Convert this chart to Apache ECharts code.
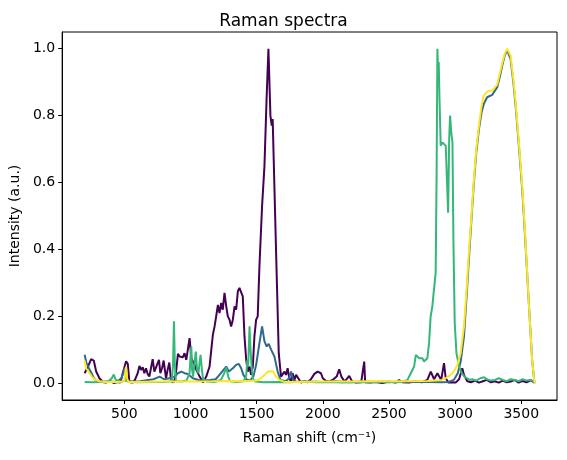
<!DOCTYPE html>
<html>
<head>
<meta charset="utf-8">
<script src="https://cdn.jsdelivr.net/npm/echarts@6/dist/echarts.min.js"></script>
<style>
  html, body {margin: 0; padding: 0; background: #fff;}
  #chart {width: 567px; height: 460px;}
</style>
</head>
<body>
<div id="chart"></div>
<script>
const xTicks = [500, 1000, 1500, 2000, 2500, 3000, 3500]
const yTicks = [0, 0.2, 0.4, 0.6, 0.8, 1.0]

// spectrum 1 (purple)
const shift1 = [200, 225, 249, 269, 287, 312, 337, 360, 390, 420, 450, 470, 488, 513, 526, 538, 563, 580, 601, 614,
  626, 639, 651, 664, 676, 689, 701, 714, 727, 740, 752, 762, 772, 785, 797, 815, 827, 840, 850, 860,
  877, 890, 905, 918, 930, 943, 955, 968, 980, 993, 1006, 1018, 1031, 1044, 1069, 1094, 1119, 1144, 1157, 1169,
  1182, 1194, 1207, 1219, 1232, 1244, 1257, 1270, 1282, 1295, 1307, 1320, 1333, 1345, 1358, 1370, 1383, 1395, 1408, 1421,
  1433, 1446, 1458, 1471, 1483, 1496, 1508, 1521, 1541, 1559, 1575, 1589, 1604, 1614, 1621, 1634, 1647, 1667, 1684, 1697,
  1710, 1722, 1734, 1747, 1760, 1772, 1785, 1798, 1810, 1823, 1835, 1860, 1885, 1910, 1936, 1961, 1986, 2000, 2020, 2050,
  2080, 2105, 2124, 2140, 2165, 2200, 2220, 2250, 2290, 2305, 2313, 2320, 2360, 2400, 2450, 2500, 2550, 2577, 2600, 2650,
  2700, 2750, 2790, 2816, 2841, 2866, 2878, 2895, 2916, 2929, 2950, 2979, 3004, 3030, 3054, 3067, 3092, 3120, 3150, 3180,
  3210, 3240, 3270, 3300, 3330, 3360, 3390, 3420, 3450, 3480, 3510, 3540, 3570, 3600]
const int1 = [0.03, 0.05, 0.072, 0.068, 0.035, 0.015, 0.004, 0.002, 0.006, 0.001, 0.004, 0.002, 0.03, 0.066, 0.058, 0.004, 0.002, 0.01, 0.03, 0.052,
  0.04, 0.048, 0.03, 0.045, 0.028, 0.02, 0.045, 0.072, 0.035, 0.04, 0.06, 0.07, 0.03, 0.045, 0.068, 0.015, 0.04, 0.062, 0.02, 0.003,
  0.006, 0.03, 0.088, 0.08, 0.085, 0.078, 0.09, 0.07, 0.075, 0.135, 0.075, 0.07, 0.055, 0.04, 0.02, 0.002, 0.02, 0.05, 0.1, 0.145,
  0.17, 0.2, 0.234, 0.21, 0.24, 0.22, 0.27, 0.23, 0.2, 0.19, 0.17, 0.19, 0.23, 0.22, 0.275, 0.285, 0.29, 0.26, 0.14, 0.07,
  0.035, 0.05, 0.025, 0.05, 0.14, 0.19, 0.2, 0.35, 0.53, 0.65, 0.85, 1.0, 0.8, 0.77, 0.79, 0.79, 0.39, 0.09, 0.02, 0.015,
  0.035, 0.025, 0.045, 0.015, 0.005, 0.03, 0.01, 0.025, 0.03, 0.01, 0.002, 0.006, 0.003, 0.012, 0.028, 0.035, 0.03, 0.015, 0.008, 0.005,
  0.012, 0.02, 0.042, 0.02, 0.005, 0.022, 0.006, 0.002, 0.003, 0.004, 0.065, 0.003, 0.002, 0.004, 0.001, 0.005, 0.002, 0.01, 0.003, 0.002,
  0.005, 0.003, 0.01, 0.035, 0.012, 0.03, 0.025, 0.01, 0.06, 0.015, 0.002, 0.003, 0.002, 0.012, 0.045, 0.025, 0.006, 0.003, 0.008, 0.002,
  0.006, 0.01, 0.003, 0.006, 0.002, 0.008, 0.003, 0.005, 0.01, 0.002, 0.007, 0.003, 0.009, 0.002]

// spectrum 2 (blue)
const shift2 = [200, 214, 232, 252, 270, 290, 320, 380, 440, 478, 503, 516, 560, 620, 680, 720, 767, 800, 840, 880,
  905, 931, 955, 980, 1018, 1060, 1094, 1150, 1190, 1219, 1245, 1270, 1290, 1320, 1345, 1365, 1383, 1400, 1421, 1450,
  1475, 1496, 1521, 1541, 1559, 1576, 1591, 1610, 1634, 1659, 1680, 1720, 1745, 1760, 1775, 1800, 1900, 2000, 2100, 2200,
  2300, 2400, 2500, 2600, 2700, 2800, 2900, 2950, 2990, 3020, 3042, 3067, 3085, 3104, 3125, 3142, 3160, 3180, 3200, 3217,
  3242, 3280, 3318, 3340, 3356, 3375, 3393, 3407, 3419, 3440, 3457, 3480, 3507, 3530, 3557, 3582, 3600]
const int2 = [0.085, 0.06, 0.045, 0.03, 0.015, 0.007, 0.004, 0.005, 0.004, 0.015, 0.045, 0.01, 0.005, 0.006, 0.01, 0.012, 0.02, 0.012, 0.015, 0.02,
  0.03, 0.035, 0.03, 0.028, 0.015, 0.01, 0.008, 0.01, 0.012, 0.025, 0.038, 0.05, 0.035, 0.045, 0.055, 0.058, 0.045, 0.025, 0.012, 0.008,
  0.02, 0.055, 0.12, 0.17, 0.125, 0.11, 0.118, 0.1, 0.08, 0.035, 0.01, 0.006, 0.015, 0.035, 0.01, 0.004, 0.005, 0.004, 0.006, 0.003,
  0.005, 0.004, 0.003, 0.005, 0.004, 0.004, 0.003, 0.004, 0.01, 0.03, 0.065, 0.14, 0.25, 0.37, 0.5, 0.6, 0.69, 0.76, 0.81, 0.835,
  0.855, 0.862, 0.885, 0.92, 0.95, 0.98, 0.995, 0.99, 0.97, 0.9, 0.83, 0.72, 0.58, 0.43, 0.24, 0.07, 0.0]

// spectrum 3 (green)
const shift3 = [200, 260, 320, 380, 405, 420, 435, 470, 510, 530, 600, 700, 800, 860, 868, 875, 882, 890, 930, 970,
  993, 1000, 1006, 1012, 1020, 1030, 1040, 1050, 1060, 1068, 1076, 1084, 1094, 1120, 1180, 1230, 1255, 1270, 1285, 1300,
  1350, 1400, 1420, 1430, 1436, 1446, 1454, 1460, 1470, 1490, 1550, 1650, 1750, 1850, 1950, 2050, 2150, 2250, 2350, 2450,
  2550, 2600, 2640, 2665, 2690, 2703, 2715, 2728, 2740, 2753, 2765, 2778, 2790, 2803, 2815, 2828, 2835, 2845, 2853, 2860,
  2866, 2872, 2876, 2882, 2891, 2904, 2916, 2929, 2941, 2947, 2955, 2962, 2967, 2972, 2980, 2987, 2997, 3010, 3030, 3050,
  3070, 3090, 3110, 3130, 3160, 3190, 3220, 3240, 3270, 3300, 3330, 3360, 3390, 3420, 3450, 3480, 3510, 3540, 3570, 3600]
const int3 = [0.004, 0.003, 0.004, 0.006, 0.015, 0.026, 0.01, 0.004, 0.008, 0.005, 0.003, 0.004, 0.004, 0.006, 0.06, 0.185, 0.05, 0.006, 0.005, 0.008,
  0.03, 0.08, 0.11, 0.04, 0.02, 0.06, 0.095, 0.04, 0.03, 0.06, 0.085, 0.05, 0.015, 0.005, 0.004, 0.01, 0.03, 0.048, 0.02, 0.006,
  0.004, 0.006, 0.02, 0.07, 0.05, 0.17, 0.1, 0.06, 0.015, 0.005, 0.003, 0.004, 0.003, 0.005, 0.003, 0.004, 0.002, 0.004, 0.003, 0.005,
  0.003, 0.004, 0.01, 0.03, 0.05, 0.085, 0.09, 0.075, 0.08, 0.075, 0.065, 0.06, 0.075, 0.12, 0.2, 0.23, 0.26, 0.26, 0.33, 0.62,
  1.0, 0.93, 0.96, 0.85, 0.71, 0.72, 0.715, 0.71, 0.705, 0.51, 0.73, 0.8, 0.77, 0.745, 0.72, 0.43, 0.18, 0.09, 0.05, 0.03,
  0.02, 0.015, 0.01, 0.012, 0.008, 0.015, 0.018, 0.012, 0.008, 0.01, 0.015, 0.01, 0.006, 0.012, 0.01, 0.006, 0.012, 0.008, 0.01, 0.005]

// spectrum 4 (yellow)
const shift4 = [200, 211, 237, 255, 274, 312, 360, 450, 500, 506, 513, 520, 530, 600, 800, 1000, 1200, 1300, 1400, 1500,
  1521, 1540, 1559, 1580, 1596, 1609, 1625, 1647, 1672, 1710, 1800, 2000, 2200, 2400, 2600, 2800, 2900, 2929, 2955, 2979,
  3000, 3017, 3042, 3067, 3085, 3104, 3125, 3142, 3160, 3180, 3200, 3217, 3242, 3280, 3318, 3340, 3356, 3375, 3393, 3407,
  3419, 3440, 3457, 3480, 3507, 3530, 3557, 3582, 3600]
const int4 = [0.068, 0.045, 0.03, 0.02, 0.012, 0.006, 0.004, 0.004, 0.006, 0.03, 0.05, 0.015, 0.004, 0.004, 0.005, 0.005, 0.006, 0.007, 0.006, 0.008,
  0.012, 0.018, 0.025, 0.033, 0.036, 0.04, 0.035, 0.02, 0.01, 0.004, 0.004, 0.005, 0.005, 0.006, 0.006, 0.007, 0.01, 0.015, 0.022, 0.03,
  0.042, 0.055, 0.09, 0.17, 0.27, 0.39, 0.51, 0.61, 0.7, 0.77, 0.83, 0.86, 0.872, 0.875, 0.893, 0.93, 0.957, 0.985, 1.0, 0.995,
  0.98, 0.91, 0.84, 0.73, 0.59, 0.44, 0.24, 0.07, 0.0]

const spectra = [[shift1, int1], [shift2, int2], [shift3, int3], [shift4, int4]]
const palette = ['#440154', '#31688e', '#35b779', '#fde725']

const font = 'DejaVu Sans'
const pairs = function (xs, ys) {
  return xs.map((x, i) => [x, ys[i]])
}

let option = {
  animation: false,
  backgroundColor: '#fff',
  title: {
    text: 'Raman spectra',
    left: 'center',
    top: 8,
    textStyle: {fontFamily: font, fontSize: 17, fontWeight: 'normal', color: '#000'}
  },
  grid: {left: 62, right: 10, top: 32, bottom: 60, show: true, borderColor: '#000', borderWidth: 1},
  xAxis: {
    type: 'value',
    min: 30,
    max: 3770,
    name: 'Raman shift (cm⁻¹)',
    nameLocation: 'middle',
    nameGap: 31,
    nameTextStyle: {fontFamily: font, fontSize: 14, color: '#000'},
    axisLine: {show: true, onZero: false, lineStyle: {color: '#000', width: 1}},
    axisTick: {show: true, length: 4, customValues: xTicks, lineStyle: {color: '#000'}},
    axisLabel: {customValues: xTicks, margin: 7, fontFamily: font, fontSize: 14, color: '#000',
      formatter: v => String(v)},
    splitLine: {show: false}
  },
  yAxis: {
    type: 'value',
    min: -0.05,
    max: 1.05,
    name: 'Intensity (a.u.)',
    nameLocation: 'middle',
    nameGap: 38,
    nameTextStyle: {fontFamily: font, fontSize: 14, color: '#000'},
    axisLine: {show: true, onZero: false, lineStyle: {color: '#000', width: 1}},
    axisTick: {show: true, length: 4, customValues: yTicks, lineStyle: {color: '#000'}},
    axisLabel: {customValues: yTicks, margin: 7, fontFamily: font, fontSize: 14, color: '#000',
      formatter: v => v.toFixed(1)},
    splitLine: {show: false}
  },
  series: spectra.map((s, i) => ({
    type: 'line',
    data: pairs(s[0], s[1]),
    showSymbol: false,
    silent: true,
    lineStyle: {color: palette[i], width: 2},
    itemStyle: {color: palette[i]}
  }))
}
echarts.init(document.getElementById('chart')).setOption(option)
</script>
</body>
</html>
